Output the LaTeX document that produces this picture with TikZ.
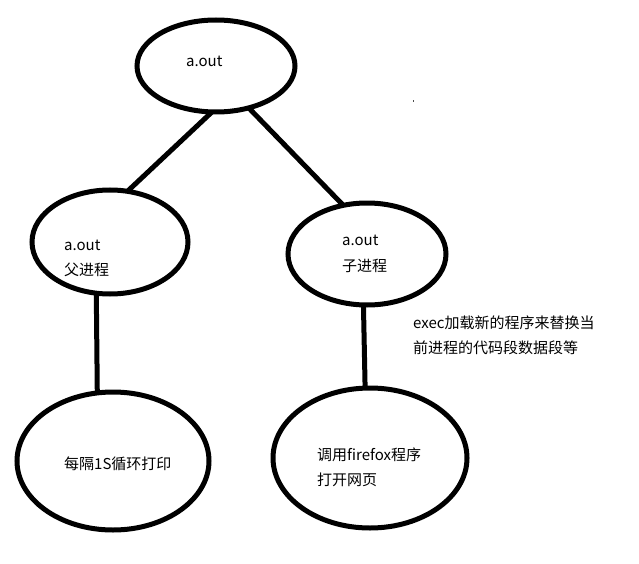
\documentclass[tikz,border=0pt]{standalone}
\usepackage{fontspec}
\setmainfont{Noto Sans CJK SC}
\usetikzlibrary{shapes.geometric}
\begin{document}
\begin{tikzpicture}[x=1pt,y=-1pt,
  oval/.style={draw=black,line width=5pt,ellipse,inner sep=0pt,outer sep=0pt},
  conn/.style={draw=black,line width=5pt},
  lbl/.style={inner sep=0pt,anchor=west,align=left,text=black,font=\fontsize{15}{25.5}\selectfont}]
\useasboundingbox[fill=white] (0,0) rectangle (639,564);
\node[oval,minimum width=158pt,minimum height=92pt] (top) at (216,66) {};
\node[oval,minimum width=156pt,minimum height=104pt] (mid1) at (110,242) {};
\node[oval,minimum width=158pt,minimum height=102pt] (mid2) at (367,254) {};
\node[oval,minimum width=192pt,minimum height=138pt] (bot1) at (113,461) {};
\node[oval,minimum width=194pt,minimum height=140pt] (bot2) at (370,458) {};
\draw[conn] (top.265) -- (mid1.71);
\draw[conn] (top.308) -- (mid2.116);
\draw[conn] (mid1.255.8) -- (bot1.103.2);
\draw[conn] (mid2.266.6) -- (bot2.94.9);
\node[lbl] (t0) at (186,61) {a.out};
\node[lbl] (t1) at (64,258.5) {a.out\\父进程};
\node[lbl] (t2) at (342,254) {a.out\\子进程};
\node[lbl] (t3) at (413,335.5) {exec加载新的程序来替换当\\前进程的代码段数据段等};
\node[lbl] (t4) at (64,464) {每隔1S循环打印};
\node[lbl] (t5) at (317,467.5) {调用firefox程序\\打开网页};
\fill[black!70] (412.5,100.5) rectangle (414,102);
\end{tikzpicture}
\end{document}
